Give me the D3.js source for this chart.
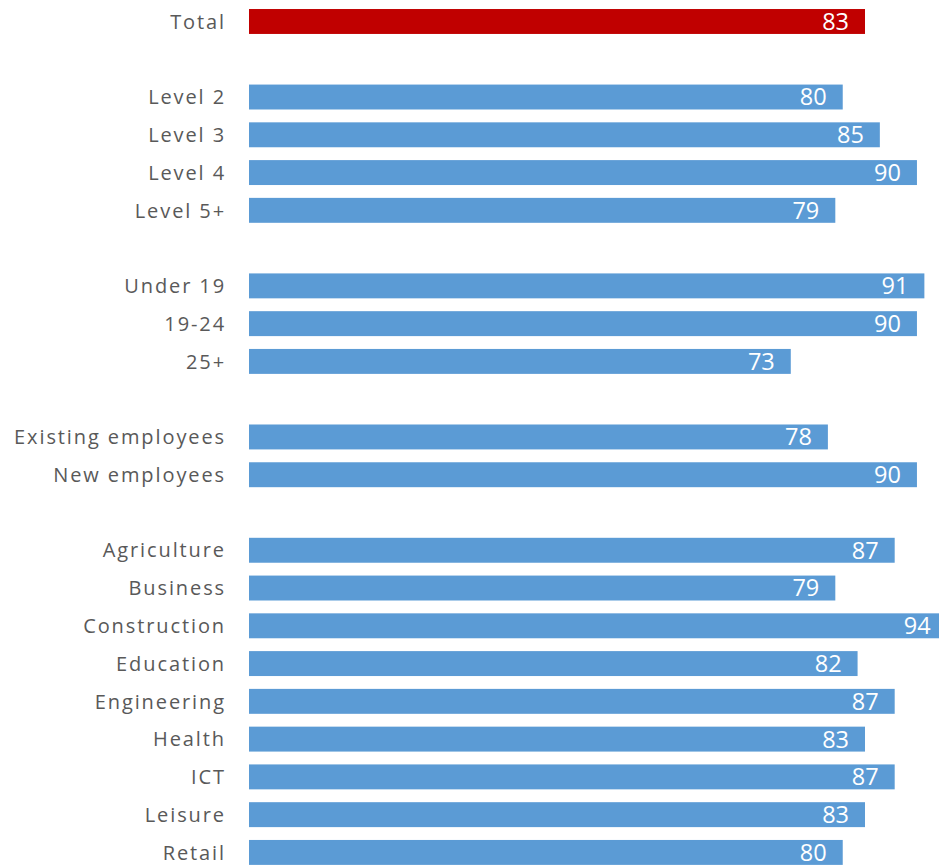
<!DOCTYPE html>
<html>
<head>
<meta charset="utf-8">
<script src="https://cdn.jsdelivr.net/npm/d3@7"></script>
<style>
  body { margin: 0; background: #fff; overflow: hidden; }
  svg { display: block; }
</style>
</head>
<body>
<svg></svg>
<script>
// Row labels top to bottom; empty strings are the gaps between groups
const categories = [
    "Total", "",
    "Level 2", "Level 3", "Level 4", "Level 5+", "",
    "Under 19", "19-24", "25+", "",
    "Existing employees", "New employees", "",
    "Agriculture", "Business", "Construction", "Education", "Engineering",
    "Health", "ICT", "Leisure", "Retail"
];

// Values (null for gap rows)
const values = [
    83, null,
    80, 85, 90, 79, null,
    91, 90, 73, null,
    78, 90, null,
    87, 79, 94, 82, 87, 83, 87, 83, 80
];

const width = 939, height = 866;
const labelRight = 224;

const svg = d3.select("svg")
    .attr("width", width)
    .attr("height", height);

// Unique keys so the blank rows each get a band
const rows = categories.map((c, i) => ({ key: i, label: c, value: values[i] }));

const y = d3.scaleBand()
    .domain(rows.map(d => d.key))
    .range([2.6, 2.6 + 23 * 37.77])
    .paddingInner(0.34)
    .paddingOuter(0.17);

const x = d3.scaleLinear()
    .domain([0, 83])
    .range([249, 865]);

const bars = rows.filter(d => d.value !== null);

svg.selectAll("rect.bar")
    .data(bars)
    .join("rect")
    .attr("class", "bar")
    .attr("x", x(0))
    .attr("y", d => y(d.key))
    .attr("width", d => x(d.value) - x(0))
    .attr("height", y.bandwidth())
    .attr("fill", d => d.label === "Total" ? "#c00000" : "#5b9bd5");

// Value labels inside the bar end
svg.selectAll("text.val")
    .data(bars)
    .join("text")
    .attr("class", "val")
    .attr("x", d => x(d.value) - 16)
    .attr("y", d => y(d.key) + y.bandwidth() / 2)
    .attr("dy", "0.36em")
    .attr("text-anchor", "end")
    .attr("fill", "#fff")
    .style("font-family", "'Open Sans', sans-serif")
    .style("font-size", "23.5px")
    .text(d => d.value);

// Category labels
svg.selectAll("text.cat")
    .data(rows.filter(d => d.label !== ""))
    .join("text")
    .attr("class", "cat")
    .attr("x", labelRight + 2)
    .attr("y", d => y(d.key) + y.bandwidth() / 2)
    .attr("dy", "0.36em")
    .attr("text-anchor", "end")
    .attr("fill", "#595959")
    .style("font-family", "'Open Sans', sans-serif")
    .style("font-size", "20px")
    .style("letter-spacing", "1.9px")
    .text(d => d.label);
</script>
</body>
</html>
